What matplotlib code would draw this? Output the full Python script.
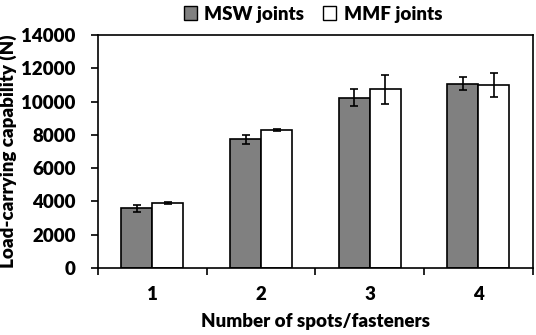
import numpy as np
import matplotlib.pyplot as plt
from matplotlib.patches import Patch

# data
categories = ["1", "2", "3", "4"]
msw_vals = [3580, 7740, 10240, 11080]
msw_err = [230, 270, 500, 410]
mmf_vals = [3920, 8300, 10740, 10980]
mmf_err = [50, 50, 870, 710]

plt.rcParams['font.family'] = ['Lato', 'DejaVu Sans']
wt = 'heavy'
plt.rcParams['font.weight'] = wt
fs = 13.5

fig = plt.figure(figsize=(5.36, 3.35), dpi=100)
ax = fig.add_axes([0.183, 0.2, 0.811, 0.6955])

x = np.arange(len(categories))
w = 0.285
ek = dict(ecolor='black', elinewidth=1.2, capsize=3, capthick=1.2)
ax.bar(x - w / 2, msw_vals, w, yerr=msw_err, color='#808080', edgecolor='black', linewidth=1.2, error_kw=ek)
ax.bar(x + w / 2, mmf_vals, w, yerr=mmf_err, color='white', edgecolor='black', linewidth=1.2, error_kw=ek)

ax.set_xlim(-0.5, 3.5)
ax.set_ylim(0, 14000)
ax.set_yticks(range(0, 14001, 2000))
ax.set_xticks(np.arange(-0.5, 3.6, 1.0))
ax.set_xticklabels([])
ax.set_xticks(x, minor=True)
ax.set_xticklabels(categories, minor=True, fontsize=fs, fontweight=wt)
ax.tick_params(axis='x', which='minor', length=0, pad=13)
ax.tick_params(axis='x', which='major', length=5, width=1.2, direction='out')
ax.tick_params(axis='y', length=5, width=1.2, labelsize=fs, pad=11)
for lab in ax.get_yticklabels():
    lab.set_fontweight(wt)
for s in ax.spines.values():
    s.set_linewidth(1.2)

ax.set_xlabel("Number of spots/fasteners", fontsize=fs, fontweight=wt, labelpad=7)
ax.set_ylabel("Load-carrying capability (N)", fontsize=fs, fontweight=wt, labelpad=3)

handles = [Patch(facecolor='#808080', edgecolor='black', label='MSW joints'),
           Patch(facecolor='white', edgecolor='black', label='MMF joints')]
fig.legend(handles=handles, loc='center', bbox_to_anchor=(0.584, 0.958), ncol=2, frameon=False,
           prop={'size': fs, 'weight': wt}, handlelength=0.7, handleheight=0.7,
           handletextpad=0.4, columnspacing=1.0)

fig.savefig('out.png', dpi=100)
